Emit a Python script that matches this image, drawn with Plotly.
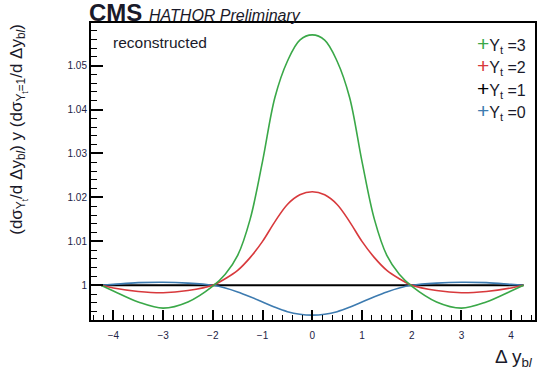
import plotly.graph_objects as go

# Rapidity-difference points and ratio values for each top Yukawa coupling
dy = [-4.25, -4.0, -3.5, -3.0, -2.5, -2.0, -1.75, -1.5, -1.25, -1.0, -0.75, -0.5, -0.25,
      0.0, 0.25, 0.5, 0.75, 1.0, 1.25, 1.5, 1.75, 2.0, 2.5, 3.0, 3.5, 4.0, 4.25]

ratio_yt3_half = [1.0000, 0.9987, 0.9962, 0.9948, 0.9962, 0.9998, 1.0025, 1.0068, 1.0150,
                  1.0282, 1.0428, 1.0510, 1.0558]
ratio_yt3_peak = 1.0570
ratio_yt2_half = [1.0000, 0.9994, 0.9986, 0.9983, 0.9988, 1.0000, 1.0015, 1.0034, 1.0063,
                  1.0100, 1.0145, 1.0184, 1.0206]
ratio_yt2_peak = 1.0213
ratio_yt0_half = [1.0000, 1.0002, 1.0006, 1.0007, 1.0005, 1.0000, 0.9994, 0.9985, 0.9974,
                  0.9962, 0.9950, 0.9940, 0.9934]
ratio_yt0_peak = 0.9932

ratio_yt3 = ratio_yt3_half + [ratio_yt3_peak] + ratio_yt3_half[::-1]
ratio_yt2 = ratio_yt2_half + [ratio_yt2_peak] + ratio_yt2_half[::-1]
ratio_yt0 = ratio_yt0_half + [ratio_yt0_peak] + ratio_yt0_half[::-1]
ratio_yt1 = [1.0] * len(dy)

legend_labels = ["Y<sub>t</sub> =3", "Y<sub>t</sub> =2", "Y<sub>t</sub> =1", "Y<sub>t</sub> =0"]
legend_colors = ["#3aa848", "#d8393c", "#000000", "#3d7bb0"]

x_ticks = [-4, -3, -2, -1, 0, 1, 2, 3, 4]
y_ticks = [1.00, 1.01, 1.02, 1.03, 1.04, 1.05]
y_tick_text = ["1", "1.01", "1.02", "1.03", "1.04", "1.05"]

FONT = "Liberation Sans, Arial, sans-serif"

fig = go.Figure()
for vals, col, w in [(ratio_yt1, "#000000", 2.0), (ratio_yt0, legend_colors[3], 1.6),
                     (ratio_yt2, legend_colors[1], 1.6), (ratio_yt3, legend_colors[0], 1.6)]:
    fig.add_trace(go.Scatter(x=dy, y=vals, mode="lines",
                             line=dict(color=col, width=w, shape="spline", smoothing=1.0),
                             showlegend=False, hoverinfo="skip"))

fig.update_layout(
    width=539, height=375,
    margin=dict(l=91, r=2, t=23, b=55),
    paper_bgcolor="white", plot_bgcolor="white",
    font=dict(family=FONT, color="#1a1a3a"),
)

fig.update_xaxes(
    range=[-4.45, 4.48], showgrid=False, zeroline=False,
    showline=True, linecolor="black", linewidth=2, mirror=True,
    ticks="inside", ticklen=10, tickwidth=1.5, tickcolor="black",
    tickvals=x_ticks, ticktext=["\u2212" + str(-v) if v < 0 else str(v) for v in x_ticks],
    tickfont=dict(size=10, family=FONT, color="#222244"), ticklabelstandoff=5,
    minor=dict(dtick=0.2, tick0=0, ticklen=5, tickwidth=1.2, tickcolor="black", ticks="inside"),
)
fig.update_yaxes(
    range=[0.9921, 1.0597], showgrid=False, zeroline=False,
    showline=True, linecolor="black", linewidth=2, mirror=True,
    ticks="inside", ticklen=12, tickwidth=1.5, tickcolor="black",
    tickvals=y_ticks, ticktext=y_tick_text,
    tickfont=dict(size=10, family=FONT, color="#222244"),
    minor=dict(dtick=0.002, tick0=1.0, ticklen=6, tickwidth=1.2, tickcolor="black", ticks="inside"),
)

annotations = [
    dict(text="<b>CMS</b> <i><span style='font-size:16px'>HATHOR Preliminary</span></i>",
         xref="paper", yref="paper", x=-0.01, y=1.0, xanchor="left", yanchor="bottom",
         showarrow=False, font=dict(size=24, family=FONT, color="#1a1a2a"), yshift=-5),
    dict(text="reconstructed", xref="paper", yref="paper", x=0.045, y=0.935,
         xanchor="left", yanchor="middle", showarrow=False,
         font=dict(size=15.5, family=FONT, color="#1a1a2a")),
    dict(text="\u0394 y<sub>b<i>l</i></sub>", xref="paper", yref="paper", x=1.0, y=-0.08,
         xanchor="right", yanchor="top", showarrow=False,
         font=dict(size=19, family=FONT, color="#1a1a2a")),
    dict(text="(d\u03c3<sub>Y<sub>t</sub></sub>/d \u0394y<sub>b<i>l</i></sub>) y "
              "(d\u03c3<sub>Y<sub>t</sub>=1</sub>/d \u0394y<sub>b<i>l</i></sub>)",
         xref="paper", yref="paper", x=-0.165, y=1.005, xanchor="center", yanchor="top",
         textangle=-90, showarrow=False, font=dict(size=17, family=FONT, color="#1a1a2a")),
]
for i, (lab, col) in enumerate(zip(legend_labels, legend_colors)):
    annotations.append(dict(
        text=f"<span style='color:{col};font-size:21px'>+</span>{lab}",
        xref="paper", yref="paper", x=0.985, y=0.93 - i * 0.0755,
        xanchor="right", yanchor="middle", showarrow=False,
        font=dict(size=16, family=FONT, color="#1a1a2a")))
fig.update_layout(annotations=annotations)

fig.write_html("out.html")
